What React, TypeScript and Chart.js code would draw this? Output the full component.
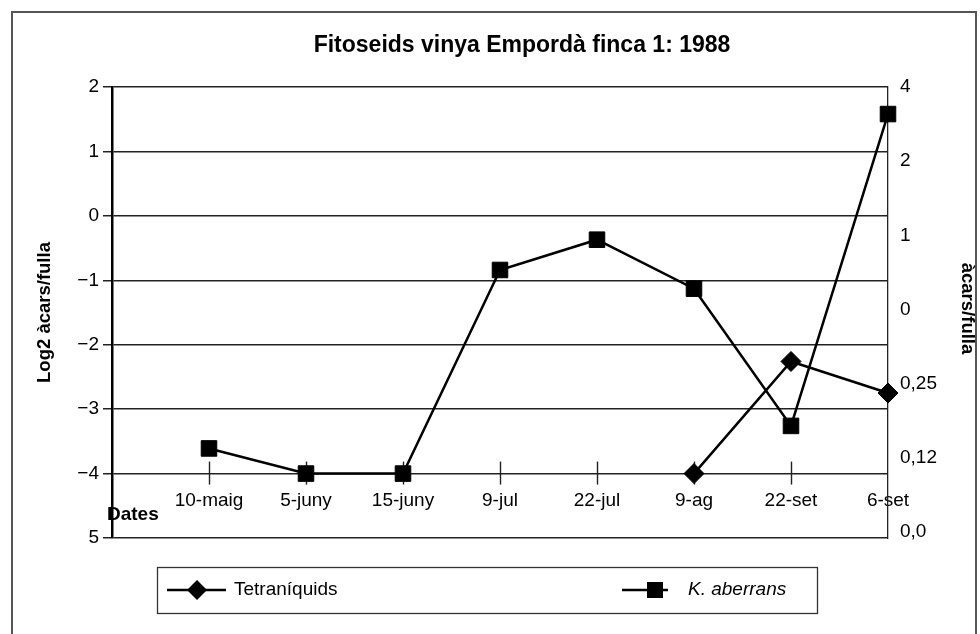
import React, { useEffect, useRef } from 'react';
import { Chart, registerables } from 'chart.js';

Chart.register(...registerables);

const TITLE = 'Fitoseids vinya Empordà finca 1: 1988';
const LEFT_TITLE = 'Log2 àcars/fulla';
const RIGHT_TITLE = 'àcars/fulla';
const X_TITLE = 'Dates';
const SERIES_NAMES = ['Tetraníquids', 'K. aberrans'];

const DATES = ['10-maig', '5-juny', '15-juny', '9-jul', '22-jul', '9-ag', '22-set', '6-set'];
const TETRANIQUIDS: (number | null)[] = [null, null, null, null, null, -4, -2.26, -2.75];
const K_ABERRANS: (number | null)[] = [-3.61, -4, -4, -0.84, -0.37, -1.13, -3.26, 1.58];

const LEFT_TICKS = [2, 1, 0, -1, -2, -3, -4, -5];
const LEFT_TICK_LABELS = ['2', '1', '0', '\u22121', '\u22122', '\u22123', '\u22124', '5'];
// right axis labels, from bottom to top
const RIGHT_TICK_LABELS = ['0,0', '0,12', '0,25', '0', '1', '2', '4'];

const FONT = "'Liberation Sans', Arial, Helvetica, sans-serif";

const decorPlugin = {
  id: 'decor',
  beforeDatasetsDraw(chart: any) {
    const ctx = chart.ctx;
    const xs = chart.scales.x;
    const ys = chart.scales.y;
    const yAxis = ys.getPixelForValue(-4);
    ctx.save();
    ctx.strokeStyle = '#222';
    ctx.lineWidth = 1.4;
    for (let i = 1; i < xs.ticks.length - 1; i++) {
      const px = Math.round(xs.getPixelForTick(i)) + 0.5;
      ctx.beginPath();
      ctx.moveTo(px, yAxis - 12);
      ctx.lineTo(px, yAxis + 11);
      ctx.stroke();
    }
    ctx.restore();
  },
  afterDraw(chart: any) {
    const ctx = chart.ctx;
    const area = chart.chartArea;
    ctx.save();
    // outer frame
    ctx.strokeStyle = '#555';
    ctx.lineWidth = 2;
    ctx.strokeRect(12, 12, 964, 700);

    // title
    ctx.fillStyle = '#000';
    ctx.font = `bold 23px ${FONT}`;
    ctx.textAlign = 'center';
    ctx.textBaseline = 'middle';
    ctx.fillText(TITLE, 522, 46);

    const midY = (area.top + area.bottom) / 2;
    // left axis title
    ctx.font = `bold 18.5px ${FONT}`;
    ctx.save();
    ctx.translate(45, midY);
    ctx.rotate(-Math.PI / 2);
    ctx.fillText(LEFT_TITLE, 0, 0);
    ctx.restore();
    // right axis title
    ctx.save();
    ctx.translate(967, midY - 4);
    ctx.rotate(Math.PI / 2);
    ctx.fillText(RIGHT_TITLE, 0, 0);
    ctx.restore();

    // x axis title
    ctx.textAlign = 'left';
    ctx.font = `bold 19px ${FONT}`;
    ctx.fillText(X_TITLE, 107, 515);

    // legend
    ctx.strokeStyle = '#333';
    ctx.lineWidth = 1.3;
    ctx.strokeRect(157.5, 567.5, 660, 46);
    const ly = 590;
    ctx.strokeStyle = '#000';
    ctx.lineWidth = 2.5;
    ctx.beginPath();
    ctx.moveTo(167, ly);
    ctx.lineTo(226, ly);
    ctx.stroke();
    ctx.beginPath();
    ctx.moveTo(197 - 10, ly);
    ctx.lineTo(197, ly - 10);
    ctx.lineTo(197 + 10, ly);
    ctx.lineTo(197, ly + 10);
    ctx.closePath();
    ctx.fill();
    ctx.font = `19px ${FONT}`;
    ctx.fillText(SERIES_NAMES[0], 234, ly);

    ctx.beginPath();
    ctx.moveTo(622, ly);
    ctx.lineTo(668, ly);
    ctx.stroke();
    ctx.fillRect(655 - 8, ly - 8, 16, 16);
    ctx.font = `italic 19px ${FONT}`;
    ctx.fillText(SERIES_NAMES[1], 688, ly);
    ctx.restore();
  },
};

export default function App() {
  const ref = useRef<HTMLCanvasElement | null>(null);

  useEffect(() => {
    document.body.style.margin = '0';
    const canvas = ref.current;
    if (!canvas) return;
    Chart.defaults.font.family = FONT;
    const chart = new Chart(canvas, {
      type: 'line',
      data: {
        labels: ['', ...DATES],
        datasets: [
          {
            label: SERIES_NAMES[0],
            data: [null, ...TETRANIQUIDS],
            borderColor: '#000',
            backgroundColor: '#000',
            borderWidth: 2.5,
            pointStyle: 'rectRot',
            pointRadius: 10,
            pointBorderWidth: 1,
            yAxisID: 'y',
            clip: false,
          } as any,
          {
            label: SERIES_NAMES[1],
            data: [null, ...K_ABERRANS],
            borderColor: '#000',
            backgroundColor: '#000',
            borderWidth: 2.5,
            pointStyle: 'rect',
            pointRadius: 11,
            pointBorderWidth: 1,
            yAxisID: 'y',
            clip: false,
          } as any,
        ],
      },
      options: {
        responsive: false,
        animation: false,
        devicePixelRatio: 1,
        layout: { padding: { left: 0, right: 0, top: 87, bottom: 96 } },
        plugins: {
          legend: { display: false },
          title: { display: false },
          tooltip: { enabled: false },
        },
        scales: {
          x: {
            type: 'category',
            offset: false,
            position: { y: -4 } as any,
            grid: { display: false, drawTicks: false },
            border: { display: false },
            ticks: {
              autoSkip: false,
              maxRotation: 0,
              minRotation: 0,
              padding: 16,
              color: '#000',
              font: { size: 19 },
            },
            afterFit(s: any) {
              s.height = 0;
            },
          },
          y: {
            type: 'linear',
            position: 'left',
            min: -5,
            max: 2,
            afterBuildTicks(s: any) {
              s.ticks = LEFT_TICKS.map((v) => ({ value: v }));
            },
            ticks: {
              callback: (v: any) => LEFT_TICK_LABELS[LEFT_TICKS.indexOf(Number(v))],
              padding: 4,
              color: '#000',
              font: { size: 19 },
            },
            grid: { color: '#222', lineWidth: 1.5, tickLength: 9, tickColor: '#222' },
            border: { display: true, color: '#000', width: 2.5 },
            afterFit(s: any) {
              s.width = 112;
            },
          },
          y2: {
            type: 'linear',
            position: 'right',
            min: -0.08,
            max: 6,
            afterBuildTicks(s: any) {
              s.ticks = RIGHT_TICK_LABELS.map((_, i) => ({ value: i }));
            },
            ticks: {
              callback: (v: any) => RIGHT_TICK_LABELS[Number(v)],
              padding: 12,
              color: '#000',
              font: { size: 19 },
            },
            grid: { display: false, drawTicks: false },
            border: { display: true, color: '#222', width: 1.3 },
            afterFit(s: any) {
              s.width = 92;
            },
          },
        },
      },
      plugins: [decorPlugin],
    });
    return () => chart.destroy();
  }, []);

  return (
    <div style={{ width: 980, height: 634 }}>
      <canvas ref={ref} width={980} height={634} style={{ display: 'block' }} />
    </div>
  );
}
